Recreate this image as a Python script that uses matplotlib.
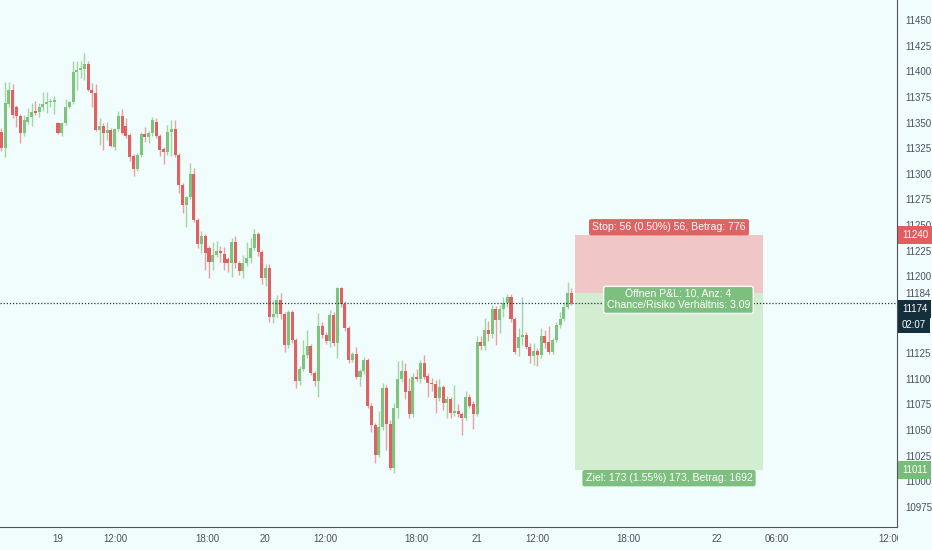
import numpy as np
import matplotlib
matplotlib.use("Agg")
import matplotlib.pyplot as plt
import matplotlib.transforms as mtransforms
from matplotlib.patches import Rectangle

# 15 min candles
opens = [11341, 11325, 11368, 11382, 11365, 11356, 11340, 11351, 11355, 11361,
         11360, 11365, 11368, 11370, 11370, 11350, 11340, 11350, 11365, 11370,
         11399, 11401, 11402, 11407, 11382, 11379, 11343, 11347, 11340, 11343,
         11326, 11344, 11356, 11347, 11338, 11317, 11305, 11318, 11339, 11336,
         11340, 11351, 11337, 11324, 11321, 11341, 11344, 11318, 11289, 11270,
         11277, 11300, 11255, 11232, 11239, 11228, 11214, 11221, 11225, 11222,
         11217, 11213, 11233, 11213, 11205, 11213, 11218, 11228, 11241, 11224,
         11198, 11208, 11160, 11163, 11177, 11163, 11133, 11165, 11138, 11098,
         11110, 11123, 11132, 11106, 11098, 11152, 11143, 11137, 11162, 11135,
         11189, 11173, 11150, 11118, 11124, 11102, 11108, 11118, 11074, 11055,
         11026, 11053, 11091, 11056, 11013, 11072, 11100, 11108, 11088, 11066,
         11102, 11100, 11115, 11103, 11096, 11095, 11081, 11092, 11076, 11080,
         11067, 11069, 11066, 11062, 11082, 11075, 11066, 11136, 11132, 11148,
         11144, 11168, 11157, 11168, 11174, 11180, 11158, 11130, 11141, 11143,
         11131, 11122, 11127, 11123, 11142, 11136, 11126, 11138, 11153, 11158,
         11170, 11184]
highs = [11345, 11390, 11390, 11388, 11367, 11358, 11357, 11364, 11369, 11371,
         11369, 11380, 11380, 11374, 11376, 11351, 11351, 11373, 11371, 11410,
         11410, 11410, 11418, 11410, 11389, 11388, 11354, 11350, 11351, 11345,
         11345, 11361, 11363, 11354, 11340, 11319, 11320, 11341, 11346, 11342,
         11355, 11354, 11339, 11326, 11348, 11352, 11352, 11320, 11291, 11278,
         11311, 11306, 11257, 11244, 11241, 11230, 11233, 11234, 11230, 11229,
         11219, 11237, 11239, 11215, 11221, 11233, 11237, 11246, 11243, 11226,
         11212, 11212, 11177, 11182, 11184, 11165, 11167, 11167, 11140, 11113,
         11138, 11148, 11134, 11108, 11164, 11155, 11146, 11167, 11165, 11190,
         11190, 11176, 11152, 11126, 11131, 11110, 11121, 11120, 11076, 11057,
         11069, 11096, 11094, 11060, 11076, 11117, 11118, 11115, 11101, 11106,
         11110, 11118, 11123, 11106, 11101, 11099, 11100, 11094, 11083, 11082,
         11094, 11075, 11068, 11088, 11085, 11078, 11142, 11142, 11159, 11156,
         11172, 11171, 11172, 11180, 11183, 11183, 11160, 11150, 11180, 11146,
         11135, 11135, 11130, 11150, 11148, 11152, 11140, 11155, 11165, 11175,
         11194, 11189]
lows = [11322, 11316, 11365, 11354, 11346, 11330, 11337, 11349, 11347, 11357,
        11355, 11361, 11359, 11365, 11358, 11339, 11337, 11348, 11364, 11368,
        11382, 11393, 11391, 11381, 11365, 11342, 11328, 11323, 11333, 11326,
        11323, 11342, 11339, 11335, 11312, 11298, 11303, 11316, 11331, 11330,
        11337, 11335, 11317, 11310, 11318, 11317, 11316, 11281, 11262, 11248,
        11275, 11253, 11228, 11223, 11206, 11198, 11206, 11219, 11214, 11206,
        11204, 11199, 11208, 11201, 11198, 11210, 11213, 11226, 11220, 11193,
        11191, 11155, 11154, 11160, 11158, 11126, 11130, 11135, 11091, 11094,
        11108, 11120, 11104, 11093, 11082, 11140, 11134, 11131, 11132, 11120,
        11170, 11147, 11115, 11116, 11100, 11093, 11105, 11072, 11048, 11018,
        11024, 11050, 11031, 11011, 11008, 11062, 11097, 11080, 11062, 11063,
        11098, 11096, 11100, 11082, 11088, 11067, 11078, 11070, 11062, 11062,
        11064, 11063, 11045, 11060, 11072, 11051, 11064, 11128, 11128, 11137,
        11140, 11133, 11145, 11160, 11170, 11155, 11124, 11122, 11133, 11129,
        11115, 11114, 11113, 11120, 11130, 11124, 11124, 11136, 11150, 11156,
        11168, 11172]
closes = [11325, 11369, 11382, 11357, 11356, 11340, 11352, 11355, 11360, 11359,
          11365, 11368, 11370, 11371, 11372, 11340, 11350, 11365, 11370, 11399,
          11401, 11403, 11407, 11382, 11379, 11343, 11347, 11340, 11343, 11327,
          11344, 11356, 11340, 11337, 11316, 11305, 11318, 11339, 11336, 11340,
          11352, 11337, 11323, 11321, 11341, 11344, 11318, 11289, 11270, 11277,
          11300, 11255, 11232, 11239, 11223, 11214, 11221, 11225, 11223, 11213,
          11213, 11233, 11213, 11205, 11213, 11218, 11228, 11241, 11224, 11198,
          11208, 11160, 11163, 11177, 11163, 11133, 11165, 11138, 11098, 11110,
          11123, 11132, 11106, 11098, 11152, 11143, 11137, 11162, 11135, 11189,
          11173, 11150, 11118, 11124, 11102, 11108, 11118, 11074, 11055, 11026,
          11053, 11091, 11056, 11013, 11072, 11100, 11108, 11087, 11066, 11102,
          11100, 11115, 11102, 11096, 11095, 11081, 11092, 11076, 11080, 11067,
          11069, 11066, 11062, 11082, 11074, 11066, 11136, 11132, 11148, 11144,
          11168, 11157, 11168, 11174, 11180, 11158, 11126, 11141, 11143, 11131,
          11122, 11127, 11123, 11142, 11135, 11126, 11138, 11153, 11158, 11170,
          11184, 11174]

time_labels = ['19', '12:00', '18:00', '20', '12:00', '18:00', '21', '12:00',
               '18:00', '22', '06:00', '12:00']
price_ticks = [11450, 11425, 11400, 11375, 11350, 11325, 11300, 11275, 11250,
               11225, 11200, 11125, 11100, 11075, 11050, 11025, 11000, 10975]

entry_price = 11184
stop_price = 11240
target_price = 11011
last_price = 11174
countdown = '02:07'
stop_text = 'Stop: 56 (0.50%) 56, Betrag: 776'
mid_text = 'Öffnen P&L: 10, Anz: 4\nChance/Risiko Verhältnis: 3.09'
target_text = 'Ziel: 173 (1.55%) 173, Betrag: 1692'

# layout (pixels of the 932x550 picture -> bar index)
px_per_bar = 3.775
def px_to_bar(px):
    return 15 + (px - 58) / px_per_bar

time_label_px = [58, 115, 207, 265, 325, 416, 477, 537, 628, 717, 777, 890]

bg = '#f1fcfc'
up_col, down_col = '#7ec47f', '#df6161'
up_wick, down_wick = '#a3d6a4', '#e9a2a2'
txt_col = '#4c525e'
font = 'Liberation Sans'

fig = plt.figure(figsize=(9.32, 5.5), dpi=100, facecolor=bg)
ax = fig.add_axes([0, 23 / 550, 897 / 932, 527 / 550], facecolor=bg)

x = np.arange(len(opens))
o = np.array(opens, dtype=float)
c = np.array(closes, dtype=float)
up = c >= o
body_col = [up_col if u else down_col for u in up]
wick_col = [up_wick if u else down_wick for u in up]

ax.vlines(x, lows, highs, colors=wick_col, lw=1, zorder=2)
ax.bar(x, np.maximum(np.abs(c - o), 0.8), bottom=np.minimum(o, c),
       width=0.8, color=body_col, zorder=3, linewidth=0)

# short position tool
x0, x1 = px_to_bar(575), px_to_bar(763)
ax.fill_between([x0, x1], entry_price, stop_price, color='#f0c6c6', lw=0, zorder=1)
ax.fill_between([x0, x1], target_price, entry_price, color='#d3edd1', lw=0, zorder=1)
xm = (x0 + x1) / 2
ax.text(xm, stop_price + 3, stop_text, ha='center', va='bottom', color='white',
        fontsize=7.6, family=font, zorder=6,
        bbox=dict(boxstyle='round,pad=0.3,rounding_size=0.2', fc='#e06262', ec='none'))
ax.text(xm + 2.5, 11177, mid_text, ha='center', va='center', color='white',
        fontsize=7.6, family=font, linespacing=1.05, zorder=6,
        bbox=dict(boxstyle='round,pad=0.3,rounding_size=0.2', fc='#7dbf7e',
                  ec='white', lw=1))
ax.text(xm, target_price - 3, target_text, ha='center', va='top', color='white',
        fontsize=7.6, family=font, zorder=6,
        bbox=dict(boxstyle='round,pad=0.3,rounding_size=0.2', fc='#7dbf7e', ec='none'))

# last price line
ax.axhline(last_price, color='#1d3a48', lw=0.9, ls=(0, (1, 1.5)), zorder=4)

ax.set_xlim(px_to_bar(0), px_to_bar(897))
ax.set_ylim(11450 - 507 / 1.0253, 11450 + 20 / 1.0253)

ax.yaxis.tick_right()
ax.set_yticks(price_ticks + [entry_price])
ax.set_yticklabels([str(p) for p in price_ticks] + [str(entry_price)])
ax.set_xticks([px_to_bar(p) for p in time_label_px])
ax.set_xticklabels(time_labels)
ax.tick_params(axis='both', length=0, labelsize=7, colors=txt_col)
ax.tick_params(axis='y', pad=6)
ax.tick_params(axis='x', pad=5)
for lbl in ax.get_xticklabels() + ax.get_yticklabels():
    lbl.set_family(font)

for side in ['top', 'left']:
    ax.spines[side].set_visible(False)
for side in ['right', 'bottom']:
    ax.spines[side].set_color('#50535e')
    ax.spines[side].set_linewidth(0.8)

# price axis markers
trans = mtransforms.blended_transform_factory(ax.transAxes, ax.transData)
def axis_tag(y, text, fc):
    ax.text(1.0 + 5 / 897, y, text, transform=trans, ha='left', va='center',
            color='white', fontsize=7, family=font, clip_on=False,
            zorder=7, bbox=dict(boxstyle='square,pad=0.4', fc=fc, ec='none'))

axis_tag(stop_price, str(stop_price), '#e05e5e')
axis_tag(last_price - 6, str(last_price), '#142f3c')
axis_tag(last_price - 21, countdown, '#142f3c')
axis_tag(target_price, str(target_price), '#76bd77')

# price scale hides the end of the last time label
fig.patches.append(Rectangle((897.5 / 932, 0), 35 / 932, 22.5 / 550,
                             transform=fig.transFigure, fc=bg, ec='none', zorder=5))

fig.savefig('out.png', dpi=100, facecolor=bg)
